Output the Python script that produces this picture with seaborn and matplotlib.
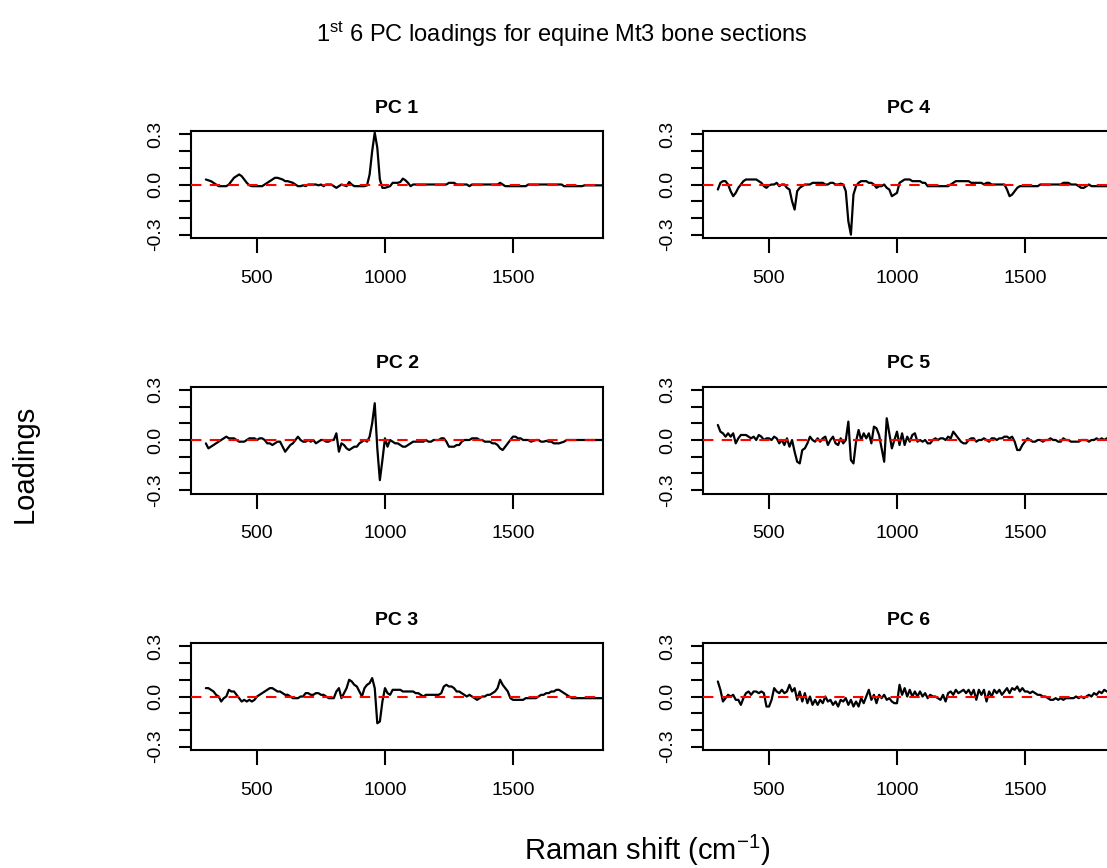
import numpy as np
import pandas as pd
import matplotlib
matplotlib.use("Agg")
import matplotlib.pyplot as plt
import seaborn as sns
from matplotlib.ticker import FixedLocator, FixedFormatter

# ---------------- data ----------------
wavenumber = np.arange(300, 1860, 10)  # Raman shift grid (cm^-1)

pc1 = [0.03, 0.025, 0.02, 0.01, 0.0, -0.01, -0.01, -0.01, -0.01, 0.0,
       0.02, 0.04, 0.05, 0.06, 0.05, 0.03, 0.01, -0.005, -0.01, -0.01,
       -0.01, -0.01, -0.01, 0.0, 0.01, 0.02, 0.03, 0.04, 0.04, 0.035,
       0.03, 0.02, 0.02, 0.015, 0.01, 0.0, -0.01, -0.01, -0.005, -0.01,
       0.0, 0.0, 0.0, 0.0, -0.005, 0.0, -0.01, 0.0, 0.0, 0.0,
       -0.01, -0.02, -0.01, 0.0, -0.005, -0.01, 0.015, 0.0, -0.01, -0.01,
       -0.01, -0.01, -0.01, -0.005, 0.06, 0.2, 0.31, 0.22, 0.03, -0.02,
       -0.02, -0.015, -0.01, 0.01, 0.01, 0.01, 0.015, 0.035, 0.025, 0.01,
       -0.01, 0.0, 0.0, 0.0, 0.0, 0.0, 0.0, 0.0, 0.0, 0.0,
       0.0, 0.0, 0.0, 0.0, 0.0, 0.01, 0.01, 0.01, 0.0, 0.0,
       0.0, 0.0, 0.0, -0.01, 0.0, 0.0, 0.0, 0.0, 0.0, 0.0,
       0.0, 0.0, 0.0, 0.0, 0.0, 0.01, 0.0, -0.01, -0.01, -0.01,
       -0.01, -0.01, -0.01, -0.01, -0.01, -0.01, 0.0, 0.0, 0.0, 0.0,
       0.0, 0.0, 0.0, 0.0, 0.0, 0.0, 0.0, 0.0, 0.0, 0.0,
       -0.01, -0.01, -0.01, -0.01, -0.01, -0.01, -0.01, -0.01, -0.005, -0.005,
       -0.005, -0.005, -0.005, -0.005, -0.005, -0.005]

pc2 = [-0.02, -0.05, -0.04, -0.03, -0.02, -0.01, 0.0, 0.01, 0.02, 0.01,
       0.01, 0.01, 0.0, -0.01, -0.01, -0.01, 0.0, 0.01, 0.01, 0.01,
       0.0, 0.01, 0.01, 0.0, -0.02, -0.02, -0.03, -0.02, -0.01, -0.01,
       -0.04, -0.07, -0.05, -0.03, -0.02, 0.0, 0.02, 0.0, -0.01, -0.01,
       0.0, -0.01, 0.0, -0.02, -0.01, 0.0, 0.0, -0.01, -0.01, 0.0,
       0.0, 0.04, -0.07, -0.02, -0.03, -0.05, -0.06, -0.05, -0.04, -0.04,
       -0.02, -0.01, 0.0, -0.01, 0.02, 0.1, 0.22, -0.05, -0.24, -0.12,
       0.01, -0.04, 0.0, -0.01, -0.02, -0.02, -0.03, -0.04, -0.04, -0.03,
       -0.02, -0.01, -0.01, -0.01, -0.01, -0.01, 0.0, -0.01, -0.01, 0.0,
       0.0, 0.0, 0.01, 0.01, -0.01, -0.04, -0.04, -0.04, -0.03, -0.03,
       -0.01, 0.0, 0.0, 0.0, 0.01, 0.01, 0.01, 0.0, 0.0, -0.01,
       -0.01, -0.01, -0.02, -0.02, -0.03, -0.05, -0.06, -0.04, -0.02, 0.0,
       0.02, 0.02, 0.01, 0.01, 0.0, 0.0, 0.0, -0.01, -0.005, 0.0,
       0.0, -0.01, -0.01, -0.005, -0.01, -0.01, -0.02, -0.02, -0.02, -0.015,
       -0.01, 0.0, 0.0, 0.0, 0.0, 0.0, 0.0, 0.0, 0.0, 0.0,
       0.0, 0.0, 0.0, 0.0, 0.0, 0.0]

pc3 = [0.05, 0.05, 0.04, 0.03, 0.01, 0.0, -0.03, -0.01, 0.0, 0.04,
       0.03, 0.03, 0.01, -0.01, -0.03, -0.02, -0.03, -0.02, -0.03, -0.02,
       0.0, 0.01, 0.02, 0.03, 0.04, 0.05, 0.05, 0.04, 0.03, 0.03,
       0.02, 0.01, 0.01, 0.0, -0.01, -0.01, -0.01, 0.0, 0.0, 0.02,
       0.02, 0.01, 0.01, 0.02, 0.02, 0.01, 0.01, 0.0, -0.01, -0.01,
       -0.01, 0.03, 0.05, -0.01, 0.02, 0.05, 0.1, 0.09, 0.07, 0.06,
       0.03, 0.0, 0.05, 0.07, 0.08, 0.11, 0.05, -0.16, -0.15, -0.03,
       0.05, 0.02, 0.01, 0.04, 0.04, 0.04, 0.04, 0.03, 0.03, 0.03,
       0.03, 0.03, 0.02, 0.02, 0.01, 0.0, 0.01, 0.01, 0.01, 0.01,
       0.01, 0.01, 0.02, 0.06, 0.07, 0.06, 0.06, 0.05, 0.03, 0.03,
       0.02, 0.01, 0.0, 0.01, 0.0, -0.01, -0.02, -0.01, 0.0, 0.0,
       0.01, 0.01, 0.02, 0.03, 0.05, 0.1, 0.07, 0.05, 0.03, -0.01,
       -0.02, -0.02, -0.02, -0.02, -0.02, -0.01, -0.01, -0.01, -0.01, -0.01,
       0.0, 0.01, 0.01, 0.02, 0.02, 0.03, 0.03, 0.04, 0.04, 0.03,
       0.02, 0.01, 0.0, -0.01, -0.01, -0.01, -0.01, -0.01, -0.01, -0.01,
       -0.01, -0.01, -0.01, -0.01, -0.01, -0.01]

pc4 = [-0.03, 0.01, 0.02, 0.02, 0.0, -0.04, -0.07, -0.05, -0.02, 0.0,
       0.02, 0.03, 0.03, 0.03, 0.03, 0.03, 0.02, 0.01, -0.01, -0.02,
       -0.005, 0.0, 0.0, 0.01, -0.01, 0.0, 0.0, -0.02, -0.03, -0.1,
       -0.15, -0.04, -0.02, -0.01, 0.0, 0.0, 0.0, 0.01, 0.01, 0.01,
       0.01, 0.01, 0.0, 0.0, 0.01, 0.01, 0.0, 0.0, 0.005, 0.0,
       -0.04, -0.22, -0.3, -0.06, -0.01, 0.01, 0.02, 0.02, 0.02, 0.01,
       0.01, 0.0, -0.02, -0.01, -0.01, 0.0, -0.02, -0.03, -0.07, -0.06,
       -0.05, 0.01, 0.02, 0.03, 0.03, 0.03, 0.02, 0.02, 0.02, 0.02,
       0.01, 0.01, -0.01, -0.01, -0.01, -0.01, -0.01, -0.01, -0.01, -0.01,
       -0.01, 0.0, 0.01, 0.02, 0.02, 0.02, 0.02, 0.02, 0.02, 0.01,
       0.01, 0.01, 0.01, 0.01, 0.0, 0.01, 0.01, 0.0, 0.0, 0.0,
       0.0, 0.0, 0.0, -0.03, -0.07, -0.06, -0.04, -0.02, -0.01, -0.01,
       -0.01, -0.01, -0.01, -0.01, -0.01, -0.01, 0.0, 0.0, 0.0, 0.0,
       0.0, 0.0, 0.0, 0.0, 0.0, 0.01, 0.01, 0.01, 0.0, 0.0,
       0.0, -0.01, -0.02, -0.02, -0.01, 0.0, -0.01, -0.01, -0.01, -0.01,
       -0.01, -0.01, -0.01, -0.01, -0.01, -0.01]

pc5 = [0.09, 0.05, 0.04, 0.02, 0.04, 0.02, 0.04, -0.02, 0.01, 0.03,
       0.03, 0.03, 0.02, 0.01, 0.02, 0.0, 0.03, 0.02, 0.0, 0.01,
       0.01, 0.0, 0.02, 0.01, -0.02, 0.0, -0.03, 0.01, -0.04, 0.0,
       -0.07, -0.13, -0.14, -0.06, -0.05, -0.02, 0.02, 0.0, -0.01, 0.01,
       -0.01, 0.01, 0.02, -0.03, 0.0, 0.02, -0.02, -0.03, 0.01, -0.02,
       0.0, 0.11, -0.12, -0.14, -0.01, 0.06, 0.0, 0.04, 0.01, 0.04,
       -0.02, 0.08, 0.07, 0.03, -0.05, -0.13, 0.13, 0.04, -0.05, 0.0,
       0.05, -0.03, 0.04, -0.03, 0.02, -0.01, 0.03, 0.04, -0.01, 0.0,
       -0.01, 0.0, -0.02, -0.02, 0.0, 0.01, 0.0, 0.01, 0.01, 0.0,
       0.02, 0.01, 0.05, 0.03, 0.01, -0.01, -0.02, -0.02, 0.0, 0.01,
       0.01, -0.01, 0.0, 0.0, 0.01, 0.0, -0.01, 0.01, 0.01, 0.0,
       0.01, 0.01, 0.02, 0.02, 0.01, 0.02, -0.01, -0.06, -0.06, -0.03,
       -0.01, 0.01, 0.0, -0.01, -0.01, 0.0, 0.0, -0.01, 0.0, 0.0,
       0.01, 0.0, 0.0, -0.01, -0.01, 0.01, 0.0, 0.0, -0.01, -0.01,
       -0.01, -0.01, 0.0, 0.0, 0.0, -0.01, 0.0, 0.0, 0.01, 0.0,
       0.01, 0.0, 0.01, 0.01, 0.0, 0.01]

pc6 = [0.09, 0.04, -0.03, -0.01, 0.01, 0.0, 0.01, -0.02, -0.02, -0.05,
       -0.01, 0.02, 0.03, 0.01, 0.03, 0.03, 0.02, 0.03, 0.02, -0.06,
       -0.06, -0.02, 0.05, 0.03, 0.02, 0.04, 0.02, 0.03, 0.07, 0.03,
       0.05, -0.02, 0.03, -0.03, 0.02, -0.04, 0.0, -0.05, -0.02, -0.05,
       -0.02, -0.04, 0.0, -0.03, -0.02, -0.05, -0.03, -0.06, -0.02, -0.03,
       -0.01, -0.05, -0.02, -0.06, -0.03, -0.06, -0.01, -0.04, 0.0, 0.04,
       -0.02, 0.01, -0.04, 0.01, -0.01, 0.01, -0.02, -0.01, -0.03, -0.04,
       -0.04, 0.07, 0.01, 0.05, 0.0, 0.04, 0.0, 0.03, 0.0, 0.03,
       0.0, 0.02, -0.01, 0.01, 0.0, 0.0, -0.01, -0.02, 0.01, -0.03,
       0.02, 0.03, 0.01, 0.04, 0.02, 0.03, 0.04, 0.02, 0.04, 0.01,
       0.04, -0.02, 0.04, 0.01, 0.04, -0.03, 0.03, 0.0, 0.04, 0.02,
       0.04, 0.01, 0.03, 0.05, 0.02, 0.05, 0.04, 0.06, 0.03, 0.05,
       0.03, 0.03, 0.02, 0.03, 0.02, 0.01, 0.01, 0.0, 0.0, -0.01,
       -0.02, -0.02, -0.01, -0.02, -0.01, -0.02, -0.01, -0.01, -0.01, -0.01,
       0.0, -0.01, 0.0, -0.01, 0.0, 0.01, 0.0, 0.02, 0.01, 0.03,
       0.02, 0.04, 0.03, 0.04, 0.03, 0.02]

panel_titles = ["PC 1", "PC 2", "PC 3", "PC 4", "PC 5", "PC 6"]
loadings = [pc1, pc2, pc3, pc4, pc5, pc6]
x_ticks = [500, 1000, 1500]
x_tick_labels = ["500", "1000", "1500"]
y_ticks = [-0.3, -0.2, -0.1, 0.0, 0.1, 0.2, 0.3]
y_tick_labels = ["-0.3", "", "", "0.0", "", "", "0.3"]

main_title = r"1$^{\mathrm{st}}$ 6 PC loadings for equine Mt3 bone sections"
x_label = r"Raman shift (cm$^{\mathrm{-1}}$)"
y_label = "Loadings"

frames = []
for name, vals in zip(panel_titles, loadings):
    assert len(vals) == len(wavenumber), (name, len(vals))
    frames.append(pd.DataFrame({"wavenumber": wavenumber, "loading": vals, "pc": name}))
df = pd.concat(frames, ignore_index=True)

# ---------------- style ----------------
sns.set_style("white")
plt.rcParams["font.family"] = ["Liberation Sans", "DejaVu Sans"]
plt.rcParams["mathtext.fontset"] = "custom"
plt.rcParams["mathtext.rm"] = "Liberation Sans"
plt.rcParams["mathtext.it"] = "Liberation Sans:italic"
plt.rcParams.update({"text.color": "black", "axes.labelcolor": "black",
                     "xtick.color": "black", "ytick.color": "black",
                     "axes.titlecolor": "black"})

W, H = 1107, 868
fig = plt.figure(figsize=(W / 100, H / 100), dpi=100)
fig.patch.set_facecolor("white")

col_left = [191, 703]
row_top = [131, 386.5, 643]
ax_w, ax_h = 412, 107

for i, name in enumerate(panel_titles):
    col, row = i // 3, i % 3
    l = col_left[col] / W
    b = 1 - (row_top[row] + ax_h) / H
    ax = fig.add_axes([l, b, ax_w / W, ax_h / H])
    sub = df[df["pc"] == name]
    sns.lineplot(data=sub, x="wavenumber", y="loading", ax=ax, color="black",
                 linewidth=1.6, estimator=None, legend=False)
    ax.axhline(0, color="red", linestyle=(0, (5, 4)), linewidth=1.5, zorder=3)
    ax.set_xlim(242, 1852)
    ax.set_ylim(-0.32, 0.32)
    ax.xaxis.set_major_locator(FixedLocator(x_ticks))
    ax.xaxis.set_major_formatter(FixedFormatter(x_tick_labels))
    ax.yaxis.set_major_locator(FixedLocator(y_ticks))
    ax.yaxis.set_major_formatter(FixedFormatter(y_tick_labels))
    ax.set_xlabel("")
    ax.set_ylabel("")
    ax.grid(False)
    for sp in ax.spines.values():
        sp.set_visible(True)
        sp.set_color("black")
        sp.set_linewidth(1.5)
    ax.tick_params(axis="x", direction="out", length=11, width=1.5, pad=12,
                   labelsize=14, colors="black", bottom=True)
    ax.tick_params(axis="y", direction="out", length=9, width=1.5, pad=10,
                   labelsize=14, colors="black", left=True, labelrotation=90)
    for lbl in ax.get_yticklabels():
        lbl.set_va("center")
    ax.set_title(name, fontsize=14, fontweight="bold", pad=13, color="black")

fig.text(562 / W, 1 - 42 / H, main_title, ha="center", va="baseline",
         fontsize=17, color="black")
fig.text(647 / W, 1 - 850 / H, x_label, ha="center", va="center",
         fontsize=21, color="black")
fig.text(25 / W, 1 - 464 / H, y_label, ha="center", va="center",
         rotation=90, fontsize=21, color="black")

fig.savefig("out.png", dpi=100, facecolor="white")
